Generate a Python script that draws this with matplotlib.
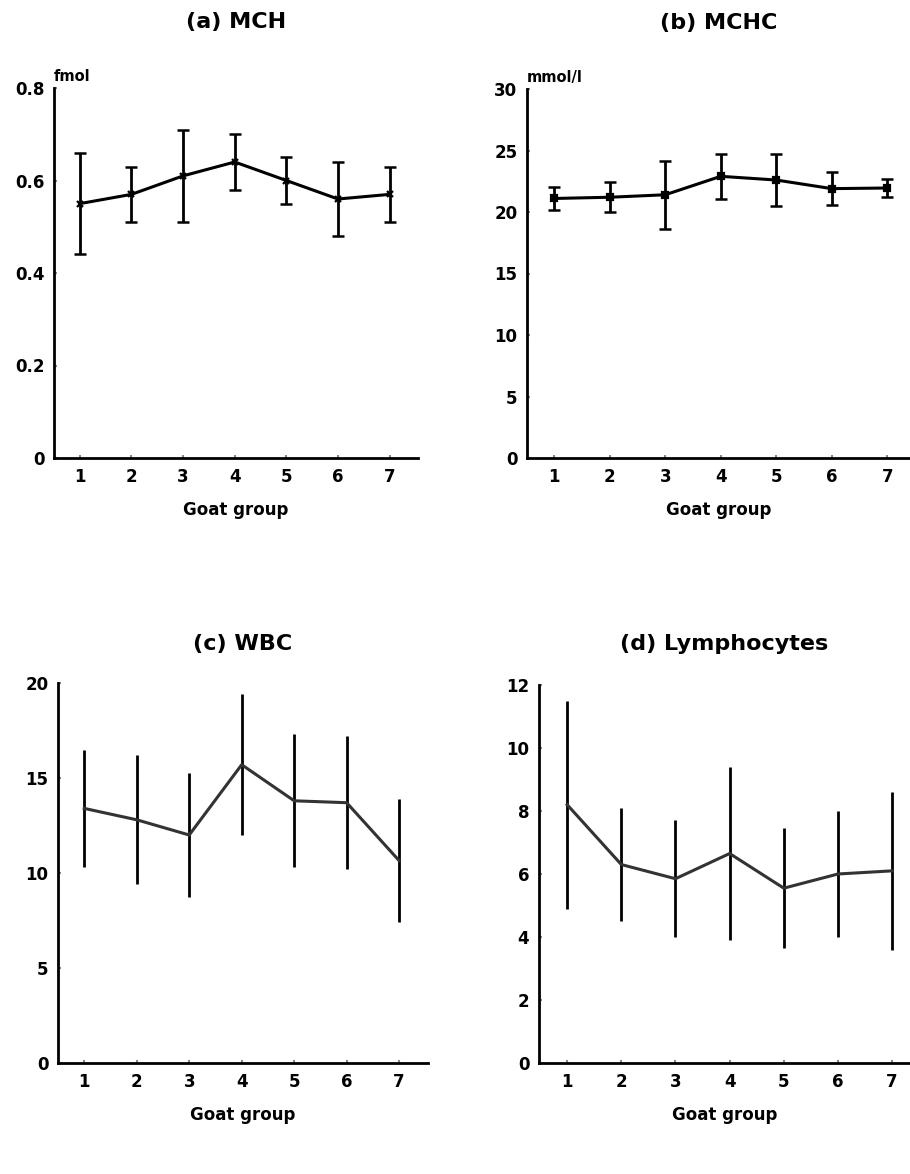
import matplotlib
matplotlib.use("Agg")
import matplotlib.pyplot as plt

groups = [1, 2, 3, 4, 5, 6, 7]

# (a) mean corpuscular haemoglobin, fmol
mch_mean = [0.55, 0.57, 0.61, 0.64, 0.60, 0.56, 0.57]
mch_sd = [0.11, 0.06, 0.10, 0.06, 0.05, 0.08, 0.06]

# (b) mean corpuscular haemoglobin concentration, mmol/l
mchc_mean = [21.1, 21.2, 21.4, 22.9, 22.6, 21.9, 21.95]
mchc_sd = [0.9, 1.2, 2.75, 1.85, 2.1, 1.35, 0.7]

# (c) white blood cells
wbc_mean = [13.4, 12.8, 12.0, 15.7, 13.8, 13.7, 10.65]
wbc_sd = [3.1, 3.4, 3.25, 3.7, 3.5, 3.5, 3.25]

# (d) lymphocytes
lym_mean = [8.2, 6.3, 5.85, 6.65, 5.55, 6.0, 6.1]
lym_sd = [3.3, 1.8, 1.85, 2.75, 1.9, 2.0, 2.5]

W, H = 910, 1174
fig = plt.figure(figsize=(W / 100, H / 100), dpi=100)
plt.rcParams["font.family"] = ["DejaVu Sans"]
plt.rcParams["font.weight"] = "bold"


def rect(left, right, top, bottom):
    return [left / W, 1 - bottom / H, (right - left) / W, (bottom - top) / H]


def panel(r, xlim, ylim, yticks, yticklabels, title, mean, sd, unit=None,
          caps=True, marker=None, line_color="black", line_w=2.2,
          title_pad=44):
    ax = fig.add_axes(r)
    ax.errorbar(groups, mean, yerr=sd, fmt="none", ecolor="black",
                elinewidth=2.0, capsize=4 if caps else 0, capthick=1.8)
    ax.plot(groups, mean, color=line_color, lw=line_w,
            marker=marker, ms=4.5, mew=1.6, mfc="black", mec="black")
    ax.set_xlim(*xlim)
    ax.set_ylim(*ylim)
    ax.set_xticks(groups)
    ax.set_xticklabels([str(g) for g in groups], fontsize=12, fontweight="bold")
    ax.set_yticks(yticks)
    ax.set_yticklabels(yticklabels, fontsize=12, fontweight="bold")
    for s in ("top", "right"):
        ax.spines[s].set_visible(False)
    for s in ("left", "bottom"):
        ax.spines[s].set_linewidth(2.0)
        ax.spines[s].set_color("black")
    ax.tick_params(axis="both", direction="in", length=2.5, width=1.5,
                   color="#888888", pad=7)
    ax.set_xlabel("Goat group", fontsize=12, fontweight="bold", labelpad=11)
    ax.set_title(title, fontsize=16, fontweight="bold", pad=title_pad)
    if unit:
        ax.text(0.0, 1.012, unit, transform=ax.transAxes, fontsize=10.5,
                fontweight="bold", ha="left", va="bottom")
    return ax


panel(rect(54, 418, 88, 458), (0.5, 7.55), (0, 0.8),
      [0, 0.2, 0.4, 0.6, 0.8], ["0", "0.2", "0.4", "0.6", "0.8"],
      "(a) MCH", mch_mean, mch_sd, unit="fmol", marker="x", title_pad=43)

panel(rect(527, 910, 89, 458), (0.51, 7.41), (0, 30),
      [0, 5, 10, 15, 20, 25, 30], ["0", "5", "10", "15", "20", "25", "30"],
      "(b) MCHC", mchc_mean, mchc_sd, unit="mmol/l", marker="s", title_pad=43)

panel(rect(58, 428, 683, 1063), (0.5, 7.55), (0, 20),
      [0, 5, 10, 15, 20], ["0", "5", "10", "15", "20"],
      "(c) WBC", wbc_mean, wbc_sd, caps=False, line_color="#333333",
      title_pad=24)

panel(rect(539, 910, 685, 1063), (0.48, 7.33), (0, 12),
      [0, 2, 4, 6, 8, 10, 12], ["0", "2", "4", "6", "8", "10", "12"],
      "(d) Lymphocytes", lym_mean, lym_sd, caps=False, line_color="#333333",
      title_pad=25)

fig.savefig("out.png", dpi=100, facecolor="white")
